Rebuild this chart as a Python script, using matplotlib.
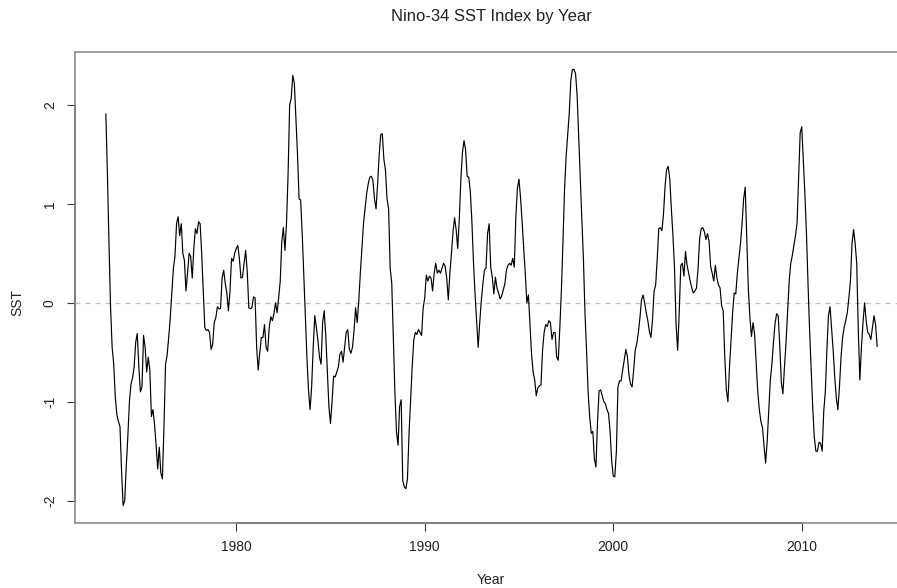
import numpy as np
import matplotlib
matplotlib.use("Agg")
import matplotlib.pyplot as plt

plt.rcParams['font.family'] = ['Liberation Sans', 'DejaVu Sans']

# monthly Nino-3.4 SST anomaly, Feb 1973 .. Jan 2014
sst_1973 = [1.91, 1.30, 0.60, -0.05, -0.45, -0.62, -0.95, -1.13, -1.20, -1.25, -1.70]
sst_1974 = [-2.05, -2.00, -1.65, -1.35, -1.00, -0.82, -0.76, -0.65, -0.40, -0.31, -0.65, -0.90]
sst_1975 = [-0.85, -0.33, -0.45, -0.70, -0.55, -0.68, -1.15, -1.08, -1.23, -1.44, -1.68, -1.46]
sst_1976 = [-1.72, -1.78, -1.25, -0.62, -0.53, -0.35, -0.15, 0.10, 0.35, 0.47, 0.80, 0.87]
sst_1977 = [0.68, 0.80, 0.50, 0.43, 0.12, 0.30, 0.50, 0.47, 0.25, 0.55, 0.75, 0.70]
sst_1978 = [0.82, 0.80, 0.50, 0.12, -0.25, -0.28, -0.27, -0.30, -0.47, -0.42, -0.20, -0.15]
sst_1979 = [-0.04, -0.06, -0.06, 0.25, 0.33, 0.20, 0.10, -0.08, 0.11, 0.45, 0.42, 0.50]
sst_1980 = [0.55, 0.58, 0.45, 0.25, 0.26, 0.40, 0.53, 0.32, -0.05, -0.06, -0.05, 0.06]
sst_1981 = [0.05, -0.45, -0.68, -0.50, -0.35, -0.35, -0.22, -0.45, -0.49, -0.25, -0.14, -0.18]
sst_1982 = [-0.11, 0.00, -0.10, 0.05, 0.22, 0.62, 0.76, 0.53, 0.80, 1.30, 2.00, 2.07]
sst_1983 = [2.30, 2.22, 1.86, 1.50, 1.05, 1.04, 0.70, 0.28, -0.15, -0.55, -0.88, -1.08]
sst_1984 = [-0.85, -0.45, -0.13, -0.25, -0.38, -0.55, -0.62, -0.20, -0.08, -0.33, -0.70, -1.05]
sst_1985 = [-1.22, -1.00, -0.74, -0.75, -0.70, -0.65, -0.52, -0.49, -0.60, -0.45, -0.30, -0.27]
sst_1986 = [-0.47, -0.51, -0.45, -0.28, -0.05, -0.20, 0.02, 0.30, 0.55, 0.80, 0.95, 1.10]
sst_1987 = [1.20, 1.27, 1.28, 1.24, 1.05, 0.95, 1.20, 1.50, 1.70, 1.71, 1.45, 1.34]
sst_1988 = [1.05, 0.95, 0.35, 0.20, -0.35, -0.90, -1.30, -1.44, -1.05, -0.98, -1.80, -1.86]
sst_1989 = [-1.88, -1.78, -1.32, -0.98, -0.65, -0.38, -0.30, -0.32, -0.27, -0.30, -0.33, -0.05]
sst_1990 = [0.05, 0.28, 0.22, 0.27, 0.25, 0.12, 0.30, 0.40, 0.30, 0.33, 0.30, 0.35]
sst_1991 = [0.40, 0.37, 0.25, 0.03, 0.30, 0.50, 0.72, 0.86, 0.74, 0.55, 0.85, 1.25]
sst_1992 = [1.52, 1.64, 1.55, 1.28, 1.27, 1.13, 0.83, 0.42, 0.10, -0.18, -0.45, -0.20]
sst_1993 = [0.02, 0.19, 0.33, 0.35, 0.70, 0.80, 0.36, 0.26, 0.09, 0.26, 0.15, 0.10]
sst_1994 = [0.04, 0.07, 0.13, 0.19, 0.33, 0.38, 0.40, 0.38, 0.45, 0.36, 0.87, 1.16]
sst_1995 = [1.25, 1.06, 0.82, 0.55, 0.30, 0.00, 0.08, -0.22, -0.52, -0.70, -0.78, -0.94]
sst_1996 = [-0.86, -0.84, -0.83, -0.48, -0.30, -0.22, -0.24, -0.18, -0.20, -0.37, -0.30, -0.30]
sst_1997 = [-0.55, -0.58, -0.25, 0.13, 0.62, 1.15, 1.48, 1.70, 1.92, 2.25, 2.36, 2.36]
sst_1998 = [2.32, 2.10, 1.68, 1.25, 0.85, 0.45, -0.10, -0.48, -0.90, -1.15, -1.32, -1.30]
sst_1999 = [-1.58, -1.66, -1.20, -0.89, -0.88, -0.94, -1.00, -1.02, -1.08, -1.12, -1.30, -1.60]
sst_2000 = [-1.75, -1.76, -1.50, -0.85, -0.79, -0.79, -0.68, -0.58, -0.47, -0.54, -0.73, -0.82]
sst_2001 = [-0.85, -0.68, -0.48, -0.41, -0.30, -0.15, 0.03, 0.08, 0.00, -0.10, -0.18, -0.29]
sst_2002 = [-0.35, -0.17, 0.12, 0.18, 0.45, 0.75, 0.76, 0.73, 0.90, 1.18, 1.35, 1.38]
sst_2003 = [1.25, 0.95, 0.68, 0.35, -0.22, -0.48, -0.10, 0.38, 0.40, 0.27, 0.52, 0.38]
sst_2004 = [0.30, 0.22, 0.15, 0.10, 0.12, 0.15, 0.35, 0.65, 0.75, 0.76, 0.72, 0.64]
sst_2005 = [0.70, 0.62, 0.37, 0.30, 0.22, 0.38, 0.25, 0.18, 0.15, -0.03, -0.08, -0.55]
sst_2006 = [-0.88, -1.00, -0.65, -0.38, -0.10, 0.10, 0.09, 0.30, 0.45, 0.60, 0.80, 1.05]
sst_2007 = [1.17, 0.65, 0.14, -0.15, -0.34, -0.20, -0.32, -0.62, -0.90, -1.08, -1.20, -1.26]
sst_2008 = [-1.45, -1.62, -1.40, -1.10, -0.78, -0.62, -0.40, -0.21, -0.11, -0.13, -0.43, -0.80]
sst_2009 = [-0.92, -0.65, -0.40, -0.10, 0.22, 0.40, 0.48, 0.58, 0.68, 0.80, 1.25, 1.72]
sst_2010 = [1.78, 1.45, 1.10, 0.70, 0.19, -0.28, -0.68, -1.06, -1.36, -1.50, -1.50, -1.41]
sst_2011 = [-1.42, -1.50, -1.10, -0.90, -0.48, -0.13, -0.04, -0.26, -0.48, -0.75, -0.96, -1.08]
sst_2012 = [-0.85, -0.55, -0.35, -0.25, -0.18, -0.10, 0.05, 0.22, 0.60, 0.74, 0.60, 0.40]
sst_2013 = [-0.28, -0.78, -0.45, -0.20, 0.00, -0.18, -0.30, -0.32, -0.37, -0.25, -0.13, -0.22]
sst_2014 = [-0.44]

first_month = 1  # months after Jan 1973
x_ticks = [1980, 1990, 2000, 2010]
y_ticks = [-2, -1, 0, 1, 2]

sst = np.array(sst_1973 + sst_1974 + sst_1975 + sst_1976 + sst_1977 + sst_1978
               + sst_1979 + sst_1980 + sst_1981 + sst_1982 + sst_1983 + sst_1984
               + sst_1985 + sst_1986 + sst_1987 + sst_1988 + sst_1989 + sst_1990
               + sst_1991 + sst_1992 + sst_1993 + sst_1994 + sst_1995 + sst_1996
               + sst_1997 + sst_1998 + sst_1999 + sst_2000 + sst_2001 + sst_2002
               + sst_2003 + sst_2004 + sst_2005 + sst_2006 + sst_2007 + sst_2008
               + sst_2009 + sst_2010 + sst_2011 + sst_2012 + sst_2013 + sst_2014)
year = 1973 + (first_month + np.arange(len(sst))) / 12.0

W, H = 897, 588
fig = plt.figure(figsize=(W / 100, H / 100), dpi=100)
# box runs past the right edge of the picture, as in the reference
ax = fig.add_axes([75 / W, 1 - 523 / H, (908 - 75) / W, (523 - 52) / H])

ax.axhline(0, color="#bdbdbd", lw=0.9, dashes=(4, 4))
ax.plot(year, sst, color="black", lw=0.85)

# R-style 4% padding
xr = year.max() - year.min()
yr = sst.max() - sst.min()
ax.set_xlim(year.min() - 0.04 * xr, year.max() + 0.04 * xr)
ax.set_ylim(sst.min() - 0.04 * yr, sst.max() + 0.04 * yr)

for s in ax.spines.values():
    s.set_color("#8c8c8c")
    s.set_linewidth(1.2)
# dark axis lines between first and last tick
ax.plot([x_ticks[0], x_ticks[-1]], [ax.get_ylim()[0]] * 2, color="#3a3a3a",
        lw=1.2, clip_on=False, solid_capstyle="butt")
ax.plot([ax.get_xlim()[0]] * 2, [y_ticks[0], y_ticks[-1]], color="#3a3a3a",
        lw=1.2, clip_on=False, solid_capstyle="butt")

ax.set_xticks(x_ticks)
ax.set_yticks(y_ticks)
ax.set_yticklabels([str(v) for v in y_ticks], rotation=90, va="center")
ax.tick_params(axis="both", length=6, width=0.8, color="#3a3a3a",
               labelsize=10, labelcolor="#222222")
ax.tick_params(axis="x", pad=6)
ax.tick_params(axis="y", pad=7)

fig.text(491 / W, 1 - 17 / H, "Nino-34 SST Index by Year", ha="center",
         va="center", fontsize=12, color="#222222")
fig.text(491 / W, 1 - 580 / H, "Year", ha="center", va="center",
         fontsize=10, color="#222222")
fig.text(17 / W, 1 - 302 / H, "SST", ha="center", va="center",
         rotation=90, fontsize=10, color="#222222")

fig.savefig("out.png", dpi=100)
